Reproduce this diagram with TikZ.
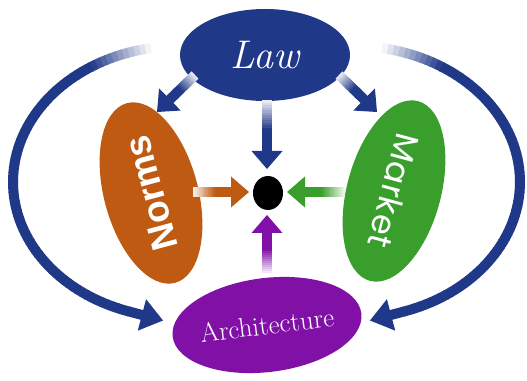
\documentclass[tikz,border=0pt]{standalone}
\usepackage{fontspec}
\usetikzlibrary{arrows.meta,shapes.geometric,calc}
\newfontfamily\normsfont{Liberation Sans}
\newfontfamily\marketfont[LetterSpace=3]{Poppins}
\definecolor{lawblue}{RGB}{31,56,136}
\definecolor{normsorange}{RGB}{191,90,18}
\definecolor{marketgreen}{RGB}{58,158,44}
\definecolor{archpurple}{RGB}{128,16,166}

\tikzset{
  blob/.style={ellipse, inner sep=0pt, text=white},
  headfill/.style={fill=#1, draw=none},
}

% Straight arrow: a shaft that fades in from white, then a solid head.
% #1 start, #2 tip, #3 colour
\newcommand{\fadearrow}[3]{%
  \coordinate (fa-base) at ($(#2)!18pt!(#1)$);
  \foreach \i in {0,...,19}{
    \pgfmathsetmacro{\ta}{\i/20}
    \pgfmathsetmacro{\tb}{(\i+1)/20+0.01}
    \pgfmathsetmacro{\pc}{min(100,10+\i*8)}
    \draw[line width=10pt, #3!\pc!white] ($(#1)!\ta!(fa-base)$) -- ($(#1)!\tb!(fa-base)$);
  }
  \fill[headfill=#3] (#2) -- ($(fa-base)!15.5pt!90:(#2)$) -- ($(fa-base)!15.5pt!-90:(#2)$) -- cycle;
}

\begin{document}
\begin{tikzpicture}[x=1pt,y=1pt]
\useasboundingbox (0,0) rectangle (527,380);

% outer loops, left and right, fading in near the top
\coordinate (lc) at (180,198);
\coordinate (rc) at (353,198);
\foreach \i in {0,...,75}{
  \pgfmathsetmacro{\a}{100+2*\i}
  \pgfmathsetmacro{\b}{102.3+2*\i}
  \pgfmathsetmacro{\pc}{min(100,5+\i*9)}
  \draw[line width=10pt, lawblue!\pc!white] (lc) ++(\a:167 and 136)
    arc[start angle=\a, end angle=\b, x radius=167, y radius=136];
  \pgfmathsetmacro{\ma}{80-2*\i}
  \pgfmathsetmacro{\mb}{77.7-2*\i}
  \draw[line width=10pt, lawblue!\pc!white] (rc) ++(\ma:167 and 136)
    arc[start angle=\ma, end angle=\mb, x radius=167, y radius=136];
}
\coordinate (lend) at ($(lc)+(252:167 and 136)$);
\coordinate (rend) at ($(rc)+(-72:167 and 136)$);
\coordinate (ltip) at ($(lend)+(34.8,-9.2)$);
\coordinate (rtip) at ($(rend)+(-34.8,-9.2)$);
\draw[line width=10pt, lawblue, -{Triangle[width=31pt,length=22pt]}] (lend) -- (ltip);
\draw[line width=10pt, lawblue, -{Triangle[width=31pt,length=22pt]}] (rend) -- (rtip);

% the four forces
\node[blob, fill=lawblue, minimum width=170pt, minimum height=92pt] (law) at (265,325)
  {\fontsize{40pt}{40pt}\selectfont\itshape Law};
\node[blob, fill=normsorange, minimum width=186pt, minimum height=94pt, rotate=105] (norms) at (151,187)
  {\normsfont\bfseries\fontsize{37pt}{37pt}\selectfont Norms};
\node[blob, fill=marketgreen, minimum width=186pt, minimum height=94pt, rotate=-105] (market) at (394,189)
  {\marketfont\fontsize{33pt}{33pt}\selectfont Market};
\node[blob, fill=archpurple, minimum width=170pt, minimum height=94pt, rotate=7] (arch) at (267,55)
  {\fontsize{27pt}{27pt}\selectfont Architecture};

% the regulated individual
\node[ellipse, fill=black, minimum width=30pt, minimum height=34pt, inner sep=0pt] (dot) at (268,187) {};

% arrow end points
\coordinate (lawS) at (267,280);   \coordinate (lawT) at (267,211);
\coordinate (normS) at (193,188);  \coordinate (normT) at (249,188);
\coordinate (mktS) at (345,188);   \coordinate (mktT) at (287,188);
\coordinate (archS) at (267,107);  \coordinate (archT) at (267,165);
\coordinate (lnS) at (195,305);    \coordinate (lnT) at (157,268);
\coordinate (lmS) at (339,305);    \coordinate (lmT) at (377,268);

\fadearrow{lawS}{lawT}{lawblue}
\fadearrow{normS}{normT}{normsorange}
\fadearrow{mktS}{mktT}{marketgreen}
\fadearrow{archS}{archT}{archpurple}
\fadearrow{lnS}{lnT}{lawblue}
\fadearrow{lmS}{lmT}{lawblue}
\end{tikzpicture}
\end{document}
